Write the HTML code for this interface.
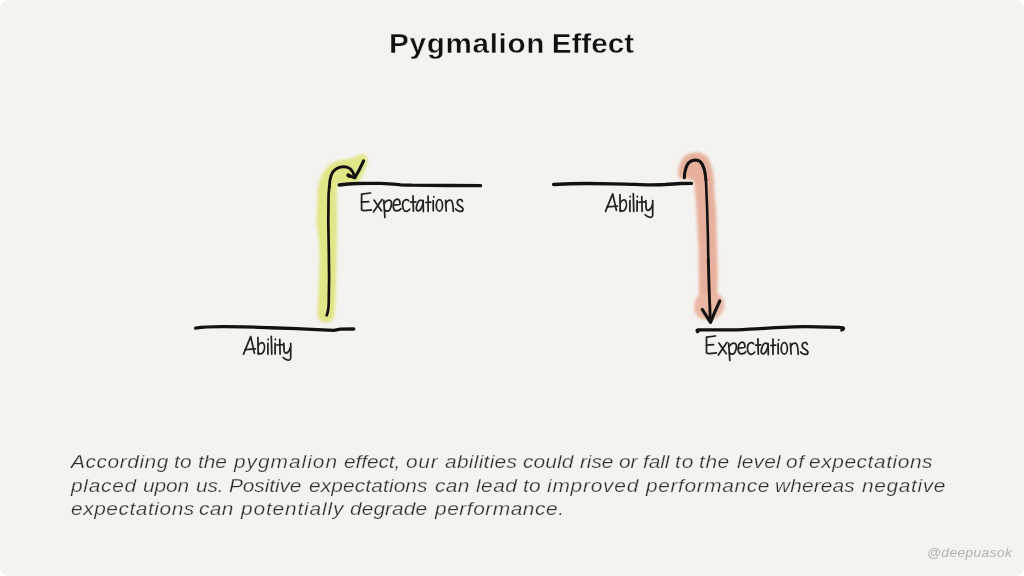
<!DOCTYPE html>
<html>
<head>
<meta charset="utf-8">
<title>Pygmalion Effect</title>
<style>
  html, body { margin: 0; padding: 0; background: #ffffff; }
  body { width: 1024px; height: 576px; overflow: hidden; font-family: "Liberation Sans", sans-serif; }
  #card { position: absolute; left: 0; top: 0; width: 1024px; height: 576px; background: #f5f3ef; border-radius: 9px; overflow: hidden; }
  #title { position: absolute; left: 389px; top: 28.7px; font-weight: bold; font-size: 27px; line-height: 30px; color: #111111; -webkit-text-stroke: 0.4px #f5f3ef; letter-spacing: 0.6px; word-spacing: -2.2px; white-space: nowrap; transform-origin: 0 0; transform: scaleX(1.10); }
  #title span { letter-spacing: 0px; }
  .bl { position: absolute; left: 0; width: 1024px; height: 23px; font-style: italic; font-size: 19px; line-height: 23px; color: #2e2e2e; -webkit-text-stroke: 0.25px #f5f3ef; white-space: nowrap; }
  .bl span { position: absolute; top: 0; display: block; white-space: nowrap; transform-origin: 0 0; transform: scaleX(1.10); }
  #l1 { top: 450.2px; }
  #l2 { top: 473.6px; }
  #l3 { top: 496.8px; }
  #wm { position: absolute; left: 927.2px; top: 544.6px; font-style: italic; font-size: 13px; line-height: 16px; color: #b2b2b2; white-space: nowrap; letter-spacing: 0.36px; transform-origin: 0 0; transform: scaleX(1.06); }
  svg { position: absolute; left: 0; top: 0; }
</style>
</head>
<body>
<div id="card">
  <div id="title">Pygmalion <span>Effect</span></div>

  <svg width="1024" height="576" viewBox="0 0 1024 576">
    <defs>
      <filter id="soft" x="-20%" y="-20%" width="140%" height="140%"><feGaussianBlur stdDeviation="1.6"/></filter>
      <g id="w-exp" fill="none" stroke="#222222" stroke-width="1.75" stroke-linecap="round" stroke-linejoin="round">
        <!-- E -->
        <path d="M370.5,193 L361.6,194.2 L361.6,209.9 C363,211.2 366,210.6 371.4,209.9"/>
        <path d="M361.6,202.2 L368.7,201.7"/>
        <!-- x -->
        <path d="M374,200.1 L381.4,210.7"/>
        <path d="M382,199.5 L373.4,211.9"/>
        <!-- p -->
        <path d="M383.8,200.4 L384.9,217.5"/>
        <path d="M384.4,203.4 C385.5,201.5 388,199.3 390.6,200.7 C392,202 391.8,206 389.7,209.9 C388,211.8 386,211.5 384.6,209.9"/>
        <!-- e -->
        <path d="M393.8,205.1 L399.7,204.5 C400.6,202.5 399.5,199.2 397.3,199.2 C394.5,199.4 393,203 393.2,205.7 C393.2,208.5 394.3,210.8 396.8,210.9 C398.5,210.9 400,210 400.9,208.7"/>
        <!-- c -->
        <path d="M408.6,200.7 C407.5,199.3 405,199 403.3,201.6 C402.2,204 402.2,208.5 404.4,210.7 C406,211.6 408.4,211 409.7,209.3"/>
        <!-- t -->
        <path d="M413,195.9 L413.4,211.2"/>
        <path d="M410.7,202.2 L415.9,201.9"/>
        <!-- a -->
        <path d="M422.8,201.3 C421.8,200 420.6,199.8 419.6,200.4 C418,201.5 416.9,204.5 416.4,207.2 C416,209.5 416.8,210.9 418.1,210.8 C420,210.6 421.8,208 423.1,203.4"/>
        <path d="M423.1,200.4 L423.4,211.6"/>
        <!-- t -->
        <path d="M428.1,196 L428.1,211.3"/>
        <path d="M425.8,202.5 L430.8,202.2"/>
        <!-- i -->
        <path d="M433.2,200.7 L433.3,210.7"/>
        <path d="M433.8,196.5 L433.8,196.9"/>
        <!-- o -->
        <ellipse cx="439.4" cy="205.4" rx="3.1" ry="5.7"/>
        <!-- n -->
        <path d="M445.6,200.4 L446.2,211"/>
        <path d="M445.9,203.4 C447,201 449.5,199 451.5,200.7 C453,202.5 453.2,207 453.3,211.3"/>
        <!-- s -->
        <path d="M462.4,201.3 C461.8,200 460.8,199.4 460,199.5 C458.6,199.6 457.6,200.3 457.3,201.8 C457,203.8 458.3,205.2 460.3,206.3 C462,207.3 463.2,208.2 463,209.5 C462.8,211 461.3,211.6 459.8,211.4 C458,211.1 456.5,210.2 455.6,209"/>
      </g>
      <g id="w-abi" fill="none" stroke="#222222" stroke-width="1.75" stroke-linecap="round" stroke-linejoin="round">
        <!-- A -->
        <path d="M243.5,354.1 L250.7,336.6 L254.4,353.1"/>
        <path d="M245.1,349.7 L255.4,348.8"/>
        <!-- b -->
        <path d="M257.9,337.5 L258.2,354.1"/>
        <path d="M258.2,345.6 C259.5,343.3 262,341.8 263.5,343.4 C265,345.5 264.8,349.5 262.9,352.5 C261.5,354.3 259.6,354.3 258.2,352.8"/>
        <!-- i -->
        <path d="M267.9,343.4 L267.9,354.1"/>
        <path d="M268.2,339.2 L268.2,339.6"/>
        <!-- l -->
        <path d="M271.3,336.3 L271.75,354.1"/>
        <!-- i -->
        <path d="M275.1,343.4 L275.1,353.75"/>
        <path d="M275.4,339.2 L275.4,339.6"/>
        <!-- t -->
        <path d="M279.75,339.4 L280.1,354.1"/>
        <path d="M276.9,345 L283.2,344.7"/>
        <!-- y -->
        <path d="M283.8,343.4 L284.1,350.6 C284.4,352.6 285.2,353.4 286.3,353.1 C288.3,352.4 289.8,350 290.4,347.5"/>
        <path d="M290.7,343.4 L290.7,357.5 C290.6,359.4 289.6,360.2 288,360.1 C286,359.9 284.3,358.8 283.2,357.5"/>
      </g>
    </defs>

    <!-- highlights -->
    <g filter="url(#soft)" stroke="none">
      <path fill="#e1e686" d="M317.5,200 C317,190 319,180 322.5,174 C327,166 333,161.5 341,160 C346,159.2 350,159 353,158 C356,156.5 358,155 361,154.5 C365,154 367.5,156 367.5,159.5 C367.5,165 364.5,172 360,179.5 L358,182.5 L339.5,183.3 C337.5,184.5 336.6,187 336.5,195 L337,222 L336.5,250 L335.8,292 L334.4,314 C334,320 330,322.5 326,322.5 C321,322.5 317.5,319 317.4,314 L318.4,292 L319.8,260 L319.1,242 L316.5,222 Z"/>
      <path fill="#e7b09c" d="M678.2,175 C678.2,168 680,161 684,156.7 C687,154 691,153 695,152.6 C701,152.2 705,154.5 707.5,157.5 C710,161 712.5,169 713.6,176.5 L714.6,195 L715.9,208 L716.8,236 L717.3,260 L717.8,275 L717.2,292 L717.4,310 C717,316 713,319.5 708.5,319.5 C703.5,319.5 699.5,316 699.2,310 L699,293.5 L698.6,250 L697.8,236 L696.4,208 L694.6,186 C694.3,183 693.5,180.5 692,179.8 C689,178.8 684,179.3 681.5,178.6 C679.3,178 678.2,177 678.2,175 Z"/>
      <path fill="#e9b7a4" d="M717.2,293 C720,295 724.5,299 724.3,305 C724,311.5 719.5,317 714,319.3 C711,320.3 706,320.3 702,319 C697,317 694,312.5 694.2,307 C694.4,301 696.5,297 699,294.5 Z"/>
    </g>

    <!-- horizontal lines -->
    <g fill="none" stroke="#141210" stroke-width="3.3" stroke-linecap="round" stroke-linejoin="round">
      <path d="M195.6,328.2 C205,326.8 215,326.6 225,326.7 C245,326.9 262,327.3 270,327.75 C280,328.1 290,328.4 296.4,328.7 C305,329.1 315,329.6 322.7,329.9 L334,330.3 L340.3,329.1 L353.8,329"/>
      <path d="M339.2,185 C345,184.2 352,183.7 357.4,183.5 C365,183.3 374,183.3 380.9,183.4 C388,183.6 395,184.3 400.4,184.8 C405,185 410,185.1 412,185.2 C425,185.3 437,185.4 448,185.5 L480.6,185.7"/>
      <path d="M553.6,184.5 C565,183.8 577,183.5 587,183.5 C600,183.6 613,183.9 626,184.1 C635,184.4 642,184.8 649,184.9 C655,184.9 660,184.7 665,184.5 C670,184.1 676,183.7 680.5,183.5 L691.5,183.4"/>
      <path d="M697.6,331.6 C696.8,330.6 697,330 698.2,329.9 L705.6,329.9 C716,329.9 727,329.9 737,329.8 C748,329.5 759,328.8 768,328.2 C777,327.5 786,326.9 793.4,326.8 C801,326.7 809,326.7 817,326.8 C825,327 833,327.2 840,327.4 C842.6,327.4 843.8,327.9 843.4,328.8 C843,329.5 842.5,329.8 841.8,330"/>
    </g>

    <!-- arrows -->
    <g fill="none" stroke="#141210" stroke-linecap="round" stroke-linejoin="round">
      <path d="M326.75,315.3 C328.3,311 328.9,304 328.8,298.6 L329.1,277.8 L328.8,250 L328.3,221.7 L328.6,193.9 L329.3,186.7" stroke-width="2.7"/>
      <path d="M329.3,187.2 C329.5,178 332,171.5 336,169 C340,166.3 346,165.8 349.6,168.4 C352.5,170.5 354,174 354.8,177.6" stroke-width="2.9"/>
      <path d="M348.2,175.4 L354.8,177.8 C358,172.5 361,166.5 363.6,160.8" stroke-width="3.1"/>
      <path d="M348.3,175.3 L349.6,175.9" stroke-width="3.9"/>
      <path d="M684.3,177.7 C684.4,170 687,163.4 690.2,161.6 C693,159.7 697.8,159.5 700.3,161.7 C703.5,165 705.3,172 705.9,180" stroke-width="3.1"/>
      <path d="M705.9,179.5 L707.1,207.8 L707.9,235.6 L708.3,260" stroke-width="2.6"/>
      <path d="M708.3,259.5 L709.2,291.7 L710.4,322" stroke-width="2.9"/>
      <path d="M702.3,309.5 L710.5,322.3 C713.5,315 716.5,308 719.8,300.9" stroke-width="3.2"/>
    </g>

    <!-- handwritten labels -->
    <use href="#w-exp"/>
    <use href="#w-exp" transform="translate(344.9,143)"/>
    <use href="#w-abi"/>
    <use href="#w-abi" transform="translate(362,-142.75)"/>
  </svg>

  <div class="bl" id="l1"><span style="left:70.5px;letter-spacing:0.51px">According</span><span style="left:174.4px;letter-spacing:0.23px">to</span><span style="left:197.6px;letter-spacing:-0.1px">the</span><span style="left:234.2px;letter-spacing:0.88px">pygmalion</span><span style="left:343.9px;letter-spacing:-0.1px">effect,</span><span style="left:405.8px;letter-spacing:0.63px">our</span><span style="left:444.6px;letter-spacing:0.25px">abilities</span><span style="left:523.3px;letter-spacing:0.08px">could</span><span style="left:579.6px;letter-spacing:-0.1px">rise</span><span style="left:618.5px;letter-spacing:-0.1px">or</span><span style="left:643.1px;letter-spacing:-0.1px">fall</span><span style="left:674.8px;letter-spacing:0.9px">to</span><span style="left:698.9px;letter-spacing:0.52px">the</span><span style="left:736.9px;letter-spacing:0.14px">level</span><span style="left:786.3px;letter-spacing:0.6px">of</span><span style="left:808.9px;letter-spacing:0.51px">expectations</span></div>
  <div class="bl" id="l2"><span style="left:70.5px;letter-spacing:0.65px">placed</span><span style="left:142.8px;letter-spacing:-0.1px">upon</span><span style="left:196.4px;letter-spacing:-0.1px">us.</span><span style="left:229.2px;letter-spacing:-0.09px">Positive</span><span style="left:308.9px;letter-spacing:0.1px">expectations</span><span style="left:434.7px;letter-spacing:0.27px">can</span><span style="left:476.2px;letter-spacing:0.42px">lead</span><span style="left:522.7px;letter-spacing:0.23px">to</span><span style="left:546.9px;letter-spacing:0.7px">improved</span><span style="left:645.5px;letter-spacing:0.55px">performance</span><span style="left:775.4px;letter-spacing:0.12px">whereas</span><span style="left:862.4px;letter-spacing:0.58px">negative</span></div>
  <div class="bl" id="l3"><span style="left:70.5px;letter-spacing:0.49px">expectations</span><span style="left:199.3px;letter-spacing:0.27px">can</span><span style="left:240.8px;letter-spacing:0.75px">potentially</span><span style="left:350.4px;letter-spacing:0.06px">degrade</span><span style="left:434.7px;letter-spacing:0.48px">performance.</span></div>
  <div id="wm">@deepuasok</div>
</div>
</body>
</html>
